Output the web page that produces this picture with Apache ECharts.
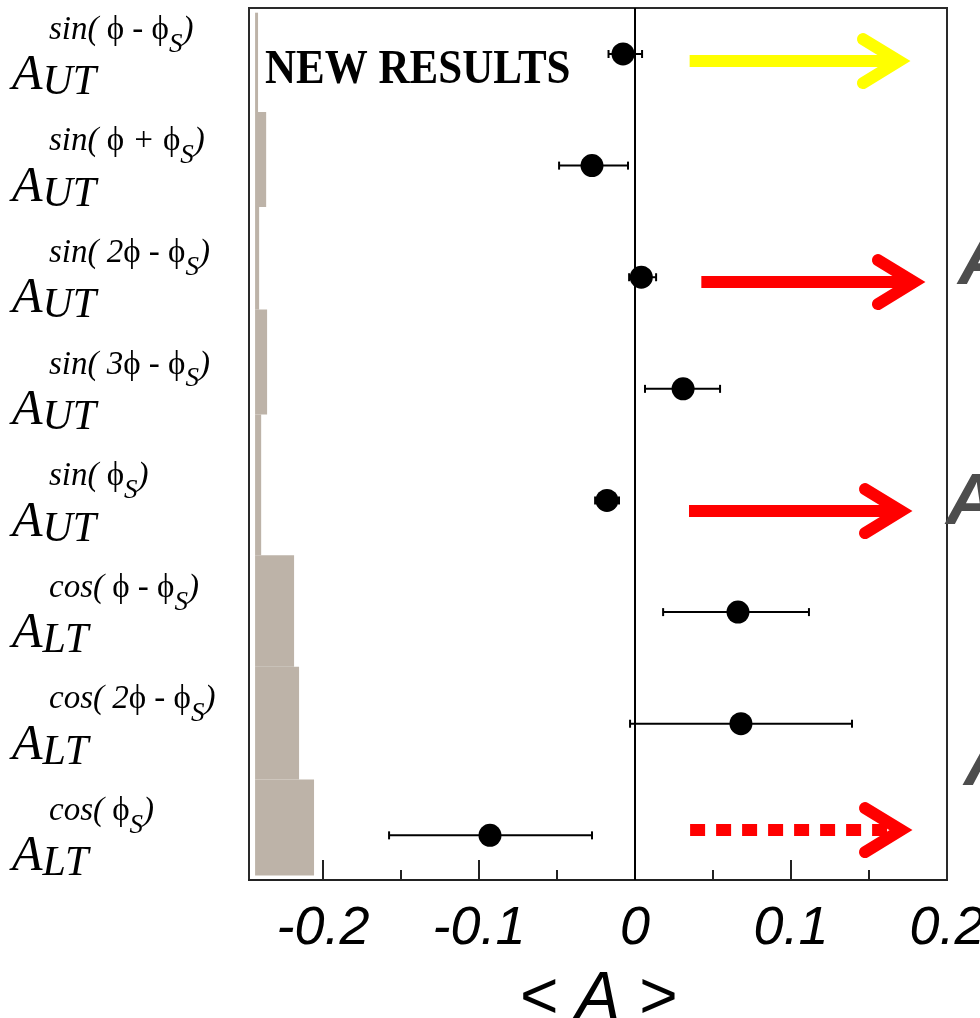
<!DOCTYPE html>
<html><head><meta charset="utf-8">
<script src="https://cdn.jsdelivr.net/npm/echarts@6/dist/echarts.min.js"></script>
<style>html,body{margin:0;padding:0;background:#fff}#c{width:980px;height:1018px}</style>
</head><body><div id="c"></div>
<script>
const supLabels = ['sin(ϕ - ϕ','sin(ϕ + ϕ','sin(2ϕ - ϕ','sin(3ϕ - ϕ','sin(ϕ','cos(ϕ - ϕ','cos(2ϕ - ϕ','cos(ϕ'];
const subLabels = ['UT','UT','UT','UT','UT','LT','LT','LT'];
const rowPos = [0,1,2,3,4,5,6,7];
const meanValues = [-0.0077,-0.0276,0.0040,0.0308,-0.0180,0.0660,0.0679,-0.0930];
const errLow = [-0.0170,-0.0487,-0.0038,0.0064,-0.0256,0.0180,-0.0032,-0.1577];
const errHigh = [0.0045,-0.0045,0.0135,0.0545,-0.0103,0.1115,0.1391,-0.0276];
const sysBase = -0.2436;
const sysEdge = [-0.2417,-0.2365,-0.2410,-0.2359,-0.2397,-0.2186,-0.2154,-0.2058];
const sysBounds = [-0.37,0.52,1.37,2.29,3.23,4.49,5.49,6.50,7.36];
const majorTicks = [-0.2,-0.1,0.1];
const minorTicks = [-0.15,-0.05,0.05,0.15];
const tickLabels = [-0.2,-0.1,0,0.1,0.2];
const arrowStart = [0.035,0.0425,0.0346,0.0353];
const arrowTip = [0.1692,0.1788,0.1705,0.1705];
const arrowRow = [0.063,2.043,4.095,6.953];
const arrowColor = ['#ffff00','#ff0000','#ff0000','#ff0000'];
const arrowDashed = [0,0,0,1];

const chart = echarts.init(document.getElementById('c'), null, {renderer:'canvas'});

function labelText(v){
  const i = Math.round(v);
  const sup = supLabels[i].replace('(', '( ').split('ϕ').join('}{p|ϕ}{f|');
  return '{g|}{f|' + sup + '}{s|S}{f|)}\n{A|A}{u|' + subLabels[i] + '}';
}

const serif = '"Liberation Serif", "Times New Roman", serif';
const sans = '"Liberation Sans", Arial, sans-serif';

const option = {
  animation:false,
  backgroundColor:'#fff',
  grid:{left:249, right:33, top:8, bottom:138, show:true, borderColor:'#2a2a2a', borderWidth:2, backgroundColor:'#fff', outerBoundsMode:'none', containLabel:false},
  xAxis:[{
    type:'value', min:-0.2475, max:0.2, position:'bottom',
    axisLine:{show:true, onZero:false, lineStyle:{color:'#222', width:2}},
    axisTick:{show:true, inside:true, length:20, customValues:majorTicks, lineStyle:{color:'#222', width:2}},
    axisLabel:{customValues:tickLabels, formatter:v=>String(v), fontFamily:sans, fontStyle:'italic', fontSize:54, color:'#000', margin:22},
    splitLine:{show:false},
    name:'< A >', nameLocation:'middle', nameGap:87,
    nameTextStyle:{fontFamily:sans, fontStyle:'italic', fontSize:66, color:'#000'}
  },{
    type:'value', min:-0.2475, max:0.2, position:'bottom',
    axisLine:{show:false, onZero:false},
    axisTick:{show:true, inside:true, length:10, customValues:minorTicks, lineStyle:{color:'#222', width:2}},
    axisLabel:{show:false}, splitLine:{show:false}
  }],
  yAxis:{
    type:'value', inverse:true, min:-0.412, max:7.40,
    axisLine:{show:false}, axisTick:{show:false}, splitLine:{show:false},
    axisLabel:{
      customValues:rowPos, formatter:labelText, align:'left', margin:237,
      rich:{
        g:{width:37},
        f:{fontFamily:serif, fontStyle:'italic', fontSize:33, color:'#000', lineHeight:44},
        p:{fontFamily:serif, fontSize:33, color:'#000', lineHeight:44},
        s:{fontFamily:serif, fontStyle:'italic', fontSize:27, color:'#000', verticalAlign:'bottom', lineHeight:44, padding:[0,0,-6,0]},
        A:{fontFamily:serif, fontStyle:'italic', fontSize:50, color:'#000', lineHeight:48},
        u:{fontFamily:serif, fontStyle:'italic', fontSize:42, color:'#000', lineHeight:48, padding:[14,0,0,0]}
      }
    }
  },
  graphic:[
    {type:'text', left:265, top:47, scaleX:0.86, scaleY:0.95, style:{text:'NEW RESULTS', font:'bold 50px "Liberation Serif", serif', fill:'#000'}},
    {type:'text', x:958, y:264, style:{text:'A', font:'italic bold 72px "Liberation Sans", Arial, sans-serif', fill:'#4d4d4d', textVerticalAlign:'middle'}},
    {type:'text', x:946, y:504, style:{text:'A', font:'italic bold 72px "Liberation Sans", Arial, sans-serif', fill:'#4d4d4d', textVerticalAlign:'middle'}},
    {type:'text', x:964, y:765, style:{text:'A', font:'italic bold 72px "Liberation Sans", Arial, sans-serif', fill:'#4d4d4d', textVerticalAlign:'middle'}}
  ],
  series:[
    {
      type:'custom', z:1, silent:true,
      data:sysEdge.map((e,i)=>[sysBase, e, sysBounds[i], sysBounds[i+1]]),
      renderItem:(params, api)=>{
        const a = api.coord([api.value(0), api.value(2)]);
        const b = api.coord([api.value(1), api.value(3)]);
        return {type:'rect', shape:{x:a[0], y:a[1], width:b[0]-a[0], height:b[1]-a[1]}, style:{fill:'#bdb3a8'}};
      }
    },
    {
      type:'custom', z:3, silent:true,
      data:rowPos.map(i=>[errLow[i], errHigh[i], i]),
      renderItem:(params, api)=>{
        const a = api.coord([api.value(0), api.value(2)]);
        const b = api.coord([api.value(1), api.value(2)]);
        const st = {stroke:'#000', lineWidth:2};
        return {type:'group', children:[
          {type:'line', shape:{x1:a[0], y1:a[1], x2:b[0], y2:b[1]}, style:st},
          {type:'line', shape:{x1:a[0], y1:a[1]-4, x2:a[0], y2:a[1]+4}, style:st},
          {type:'line', shape:{x1:b[0], y1:b[1]-4, x2:b[0], y2:b[1]+4}, style:st}
        ]};
      }
    },
    {
      type:'scatter', z:4, symbol:'circle', symbolSize:23, itemStyle:{color:'#000', opacity:1},
      data:rowPos.map(i=>[meanValues[i], i]),
      markLine:{silent:true, symbol:['none','none'], label:{show:false}, lineStyle:{color:'#000', width:2, type:'solid', opacity:1}, data:[{xAxis:0}]}
    },
    {
      type:'custom', z:5, silent:true,
      data:arrowStart.map((s,i)=>[s, arrowTip[i], arrowRow[i], arrowDashed[i]]),
      renderItem:(params, api)=>{
        const i = params.dataIndex;
        const p0 = api.coord([api.value(0), api.value(2)]);
        const p1 = api.coord([api.value(1), api.value(2)]);
        const color = arrowColor[i];
        const dashed = api.value(3) === 1;
        const hw = 36, hh = 22;
        return {type:'group', children:[
          {type:'line', shape:{x1:p0[0], y1:p0[1], x2:p1[0]-4, y2:p1[1]}, style:{stroke:color, lineWidth:12, lineDash: dashed ? [15,11] : null}},
          {type:'polyline', shape:{points:[[p1[0]-hw, p1[1]-hh],[p1[0], p1[1]],[p1[0]-hw, p1[1]+hh]]}, style:{stroke:color, fill:null, lineWidth:12, lineCap:'round', lineJoin:'miter', miterLimit:10}}
        ]};
      }
    }
  ]
};
chart.setOption(option);
</script>
</body></html>
